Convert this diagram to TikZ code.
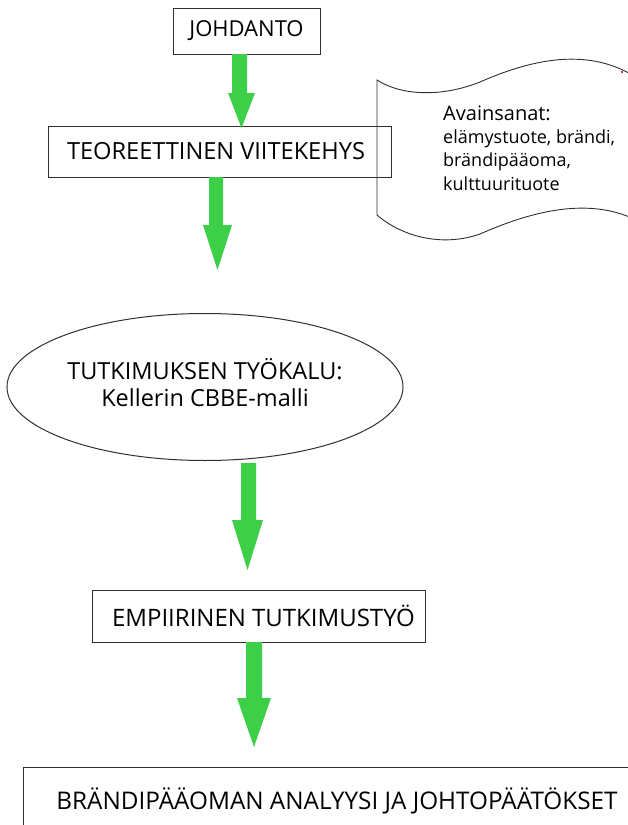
\documentclass[tikz,border=0pt]{standalone}
\usepackage{fontspec}
\setmainfont{Open Sans}
\usetikzlibrary{shapes.geometric}
\definecolor{arrowgreen}{HTML}{3DCF48}
\definecolor{edgegray}{HTML}{303030}
\tikzset{
  boxnode/.style={draw=edgegray, line width=1pt, inner sep=0pt, font=\fontsize{24}{28}\selectfont},
  ovalnode/.style={draw=edgegray, line width=1pt, ellipse, inner sep=0pt},
  ovaltext/.style={inner sep=0pt, font=\fontsize{23.5}{27}\selectfont, align=center},
  garrow/.style={fill=arrowgreen, draw=none},
  wavetext/.style={anchor=base west, inner sep=0pt, font=\fontsize{18}{22}\selectfont},
}
% shaft left, shaft right, shaft top, head y, head left, head right, tip y
\newcommand\greenarrow[7]{%
  \fill[garrow] (#1,#3) -- (#2,#3) -- (#2,#4) -- (#6,#4) -- ({(#5+#6)/2},#7) -- (#5,#4) -- (#1,#4) -- cycle;}
\begin{document}
\begin{tikzpicture}[x=1pt,y=-1pt]
\useasboundingbox (0,0) rectangle (627,825);
% wave shape (keywords)
\draw[edgegray, line width=0.9pt]
  (640,80) .. controls (590,45) and (530,60) .. (480,82)
  .. controls (440,98) and (400,95) .. (377,80)
  -- (377,215)
  .. controls (400,235) and (440,248) .. (480,234)
  .. controls (530,212) and (590,195) .. (640,222);
\fill[red!70!black] (622,72) circle (1.1);
\node[wavetext, font=\fontsize{20}{24}\selectfont] (kw1) at (443,120) {Avainsanat:};
\node[wavetext] (kw2) at (443,143) {elämystuote, brändi,};
\node[wavetext] (kw3) at (443,166) {brändipääoma,};
\node[wavetext] (kw4) at (443,190) {kulttuurituote};
% boxes
\node[boxnode, minimum width=147pt, minimum height=46pt, font=\fontsize{22}{26}\selectfont] (intro) at (246.5,31) {JOHDANTO};
\node[boxnode, minimum width=343pt, minimum height=51pt, font=\fontsize{23.6}{28}\selectfont] (theory) at (219.5,151.5) {\hspace*{-7pt}TEOREETTINEN VIITEKEHYS};
\node[ovalnode, minimum width=396pt, minimum height=147pt] (tool) at (205,387) {};
\node[ovaltext] (tooltext) at ([yshift=4pt]tool.center) {TUTKIMUKSEN TYÖKALU:\\Kellerin CBBE-malli};
\node[boxnode, minimum width=333pt, minimum height=52pt] (emp) at (258.5,616) {\hspace*{10pt}EMPIIRINEN TUTKIMUSTYÖ};
\draw[edgegray, line width=1pt] (640,767) -| (23,840);
\node[inner sep=0pt, font=\fontsize{24.3}{28}\selectfont] (final) at (337,801) {BRÄNDIPÄÄOMAN ANALYYSI JA JOHTOPÄÄTÖKSET};
% green block arrows
\greenarrow{232}{247}{54}{93}{228}{255}{128}
\greenarrow{209}{223}{177}{225}{203}{232}{270}
\greenarrow{241}{256}{463}{520}{232}{263}{570}
\greenarrow{246}{262}{642}{698}{237}{271}{747}
\end{tikzpicture}
\end{document}
